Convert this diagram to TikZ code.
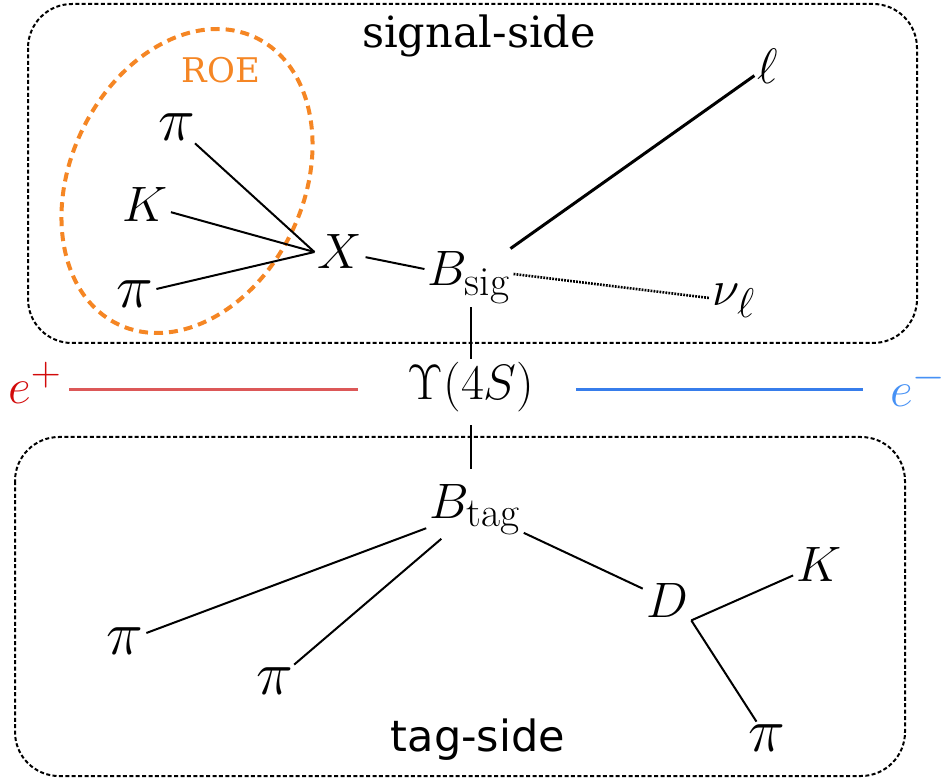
\documentclass[tikz,border=0pt]{standalone}
\usepackage{fontspec}
\newfontfamily\dvserif{DejaVu Serif}
\newfontfamily\dvsans{DejaVu Sans}

\definecolor{roeorange}{RGB}{245,134,36}
\definecolor{beamred}{RGB}{220,88,88}
\definecolor{epred}{RGB}{210,10,10}
\definecolor{beamblue}{RGB}{55,125,235}
\definecolor{emblue}{RGB}{70,145,245}

\begin{document}
\begin{tikzpicture}[x=0.5pt, y=-0.5pt,
					particle/.style={font=\fontsize{24.88}{30}\selectfont, inner sep=1.5pt},
					pion/.style={particle, scale=1.25, inner sep=1pt},
					sidebox/.style={draw, line width=1pt, dash pattern=on 2pt off 1.2pt, rounded corners=22pt},
					decay/.style={line width=1pt},
					roe/.style={draw=roeorange, line width=2pt, dash pattern=on 4.5pt off 3pt},
					beam/.style={line width=1.5pt}
					]
					\useasboundingbox (0,0) rectangle (942,780);
					
					% Signal side
					\draw[sidebox] (28,4) rectangle (917,343);
					\node[font=\dvserif\fontsize{21.5}{26}\selectfont] (sigside) at (479,36) {signal-side};
					
					\node[pion] (pitop) at (177,127) {$\pi$};
					\node[particle] (Ksig) at (145,205) {$K$};
					\node[pion] (pibot) at (135,294) {$\pi$};
					\node[particle] (X) at (340,252) {$X$};
					\node[particle] (Bsig) at (469,278) {$B_{\mathrm{sig}}$};
					\node[particle] (lep) at (768,66) {$\ell$};
					\node[particle] (nu) at (734,301) {$\nu_\ell$};
					
					% Rest of event
					\draw[roe, rotate around={-25.6:(187,181)}] (187,181) ellipse [x radius=58.25pt, y radius=79.5pt];
					\node[font=\dvserif\fontsize{17}{20}\selectfont, text=roeorange] (roe) at (221,70) {ROE};
					
					% Beams
					\node[particle] (ups) at (471,387) {$\Upsilon(4S)$};
					\node[particle, text=epred] (eplus) at (35,383) {$e^+$};
					\node[particle, text=emblue] (eminus) at (918,385) {$e^-$};
					\coordinate (axis) at (0,390);
					
					% Tag side
					\draw[sidebox] (15,437) rectangle (905,776);
					\node[font=\dvsans\fontsize{21.5}{26}\selectfont] (tagside) at (478,740) {tag-side};
					
					\node[particle] (Btag) at (475,510) {$B_{\mathrm{tag}}$};
					\node[pion] (pione) at (125,641) {$\pi$};
					\node[pion] (pitwo) at (275,681) {$\pi$};
					\node[particle] (D) at (667,600) {$D$};
					\node[particle] (Ktag) at (819,564) {$K$};
					\node[pion] (pithree) at (767,738) {$\pi$};
					
					% Lines
					\draw[decay] (pitop) -- (X.west);
					\draw[decay] (Ksig) -- (X.west);
					\draw[decay] (pibot) -- (X.west);
					\draw[decay] (X) -- (Bsig);
					\draw[line width=1.5pt] (Bsig) -- (lep);
					\draw[line width=1.3pt, dash pattern=on 0.9pt off 0.6pt] ([yshift=2pt]Bsig.east) -- (nu);
					\draw[decay] (Bsig.south -| ups) -- (ups);
					\draw[decay, shorten <=5pt, shorten >=6pt] (ups) -- (Btag.north -| ups);
					
					\draw[beam, draw=beamred, shorten <=2pt] (eplus.east |- axis) -- ([xshift=-23pt]ups.west |- axis);
					\draw[beam, draw=beamblue, shorten >=12pt] ([xshift=19pt]ups.east |- axis) -- (eminus.west |- axis);
					
					\draw[decay] (Btag) -- (pione);
					\draw[decay] (Btag) -- (pitwo);
					\draw[decay] (Btag) -- (D);
					\draw[decay] (D.south east) -- (Ktag);
					\draw[decay] (D.south east) -- (pithree);
					
				\end{tikzpicture}
\end{document}
